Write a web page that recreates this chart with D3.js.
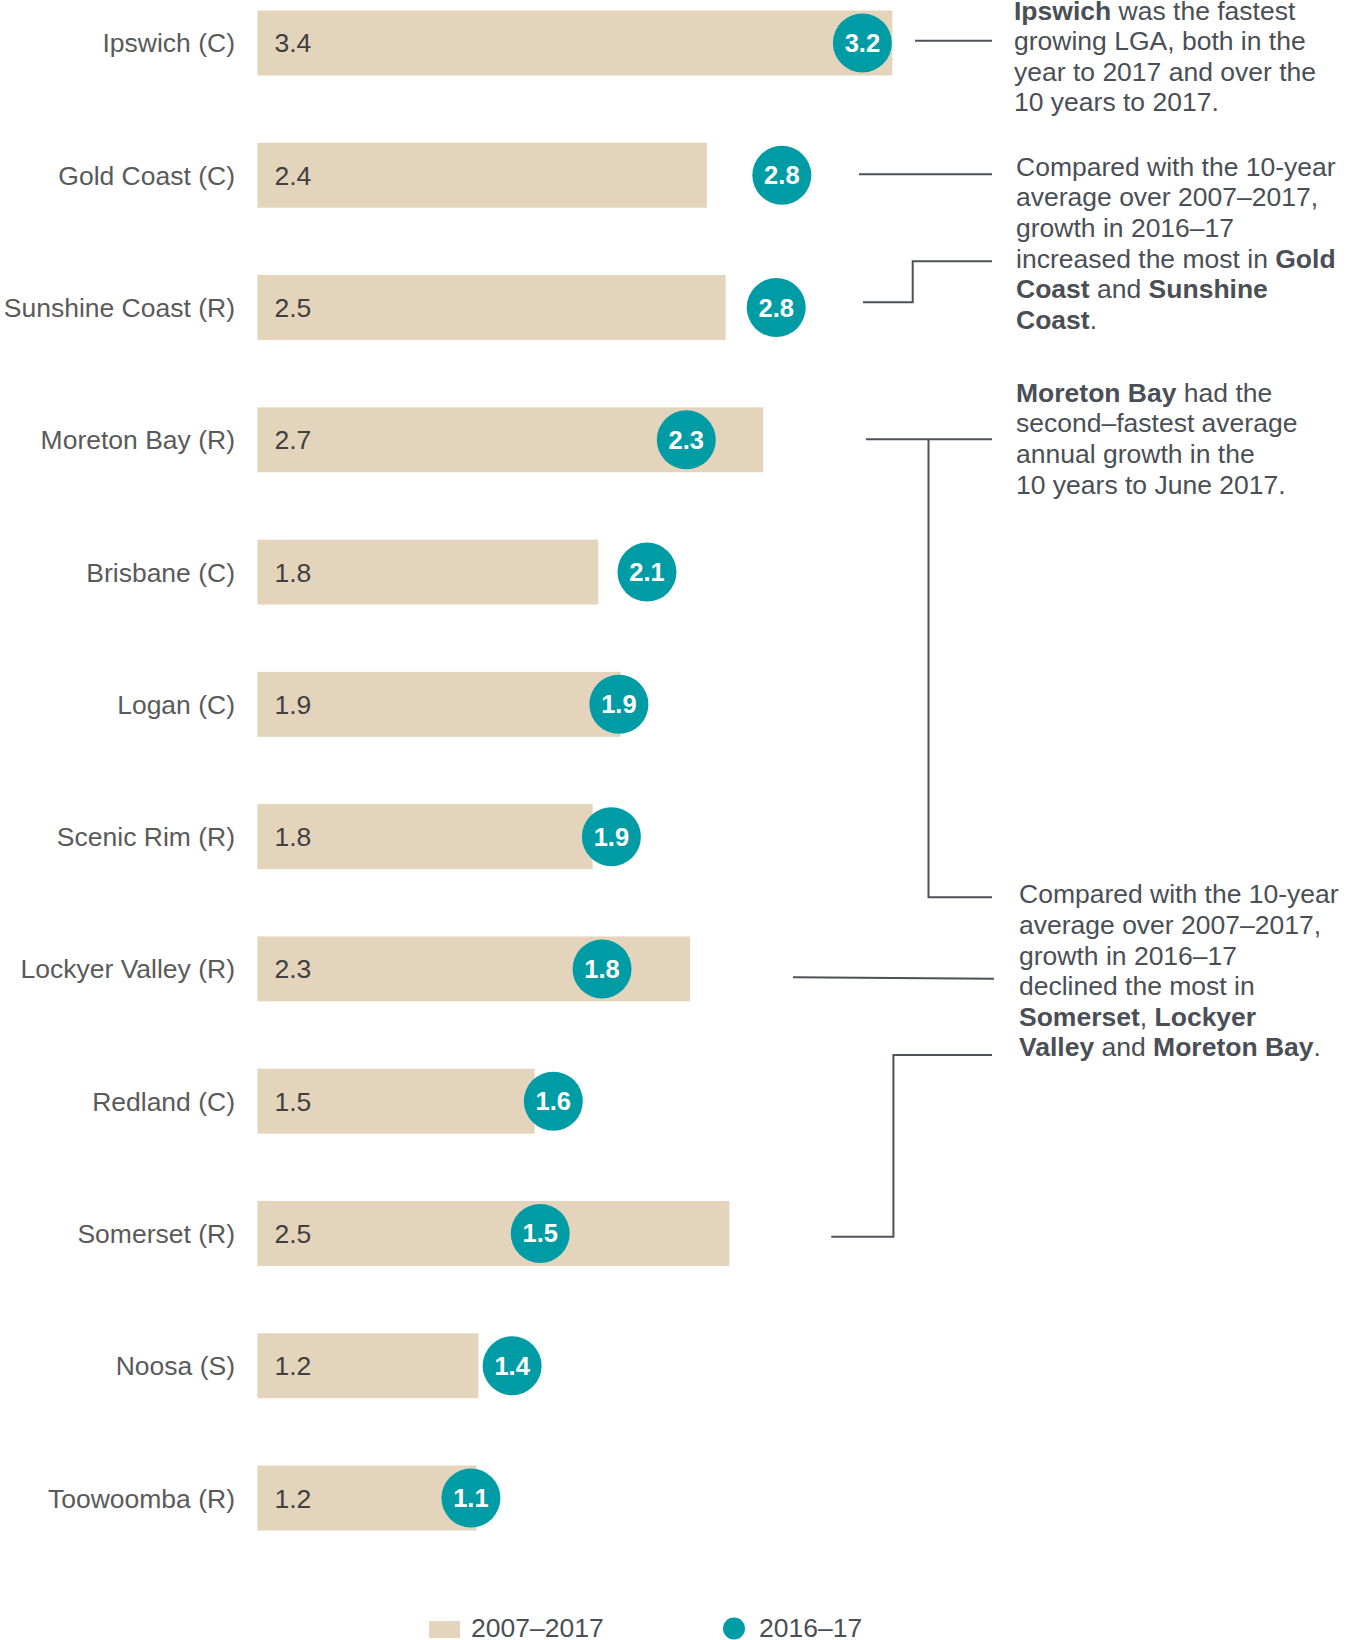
<!DOCTYPE html>
<html>
<head>
<meta charset="utf-8">
<script src="https://cdn.jsdelivr.net/npm/d3@7"></script>
<style>
  body { margin: 0; background: #fff; }
  text { font-family: "Liberation Sans", Arial, sans-serif; }
</style>
</head>
<body>
<div id="chart"></div>
<script>
var width = 1359,
    height = 1640;

// LGAs, top to bottom
var categories = ['Ipswich (C)', 'Gold Coast (C)', 'Sunshine Coast (R)', 'Moreton Bay (R)',
  'Brisbane (C)', 'Logan (C)', 'Scenic Rim (R)', 'Lockyer Valley (R)', 'Redland (C)',
  'Somerset (R)', 'Noosa (S)', 'Toowoomba (R)'];
// average annual growth 2007-2017 (%)
var avg10yr = [3.39, 2.40, 2.50, 2.70, 1.82, 1.94, 1.79, 2.31, 1.48, 2.52, 1.18, 1.17];
// growth 2016-17 (%)
var growth1617 = [3.23, 2.80, 2.77, 2.29, 2.08, 1.93, 1.89, 1.84, 1.58, 1.51, 1.36, 1.14];
var seriesNames = ['2007\u20132017', '2016\u201317'];

// annotation text, each line is a list of [text, bold]
var notes = [
  {x: 1014, y: 19.5, lines: [
    [['Ipswich', true], [' was the fastest', false]],
    [['growing LGA, both in the', false]],
    [['year to 2017 and over the', false]],
    [['10 years to 2017.', false]]]},
  {x: 1016, y: 175.7, lines: [
    [['Compared with the 10-year', false]],
    [['average over 2007\u20132017,', false]],
    [['growth in 2016\u201317', false]],
    [['increased the most in ', false], ['Gold', true]],
    [['Coast', true], [' and ', false], ['Sunshine', true]],
    [['Coast', true], ['.', false]]]},
  {x: 1016, y: 401.7, lines: [
    [['Moreton Bay', true], [' had the', false]],
    [['second\u2013fastest average', false]],
    [['annual growth in the', false]],
    [['10 years to June 2017.', false]]]},
  {x: 1019, y: 903.3, lines: [
    [['Compared with the 10-year', false]],
    [['average over 2007\u20132017,', false]],
    [['growth in 2016\u201317', false]],
    [['declined the most in', false]],
    [['Somerset', true], [', ', false], ['Lockyer', true]],
    [['Valley', true], [' and ', false], ['Moreton Bay', true], ['.', false]]]}
];

var barColor = '#e4d4bb',
    dotColor = '#009ca6',
    lineColor = '#4d5258',
    noteColor = '#4a4f55';

var x = d3.scaleLinear().domain([0, 3.5]).range([257.4, 257.4 + 3.5 * 187.3]);
var y = d3.scaleBand().domain(categories).range([10.5, 1530.5]).paddingInner(0.509).paddingOuter(0);
var r = 29.5;

var svg = d3.select('#chart').append('svg')
    .attr('width', width)
    .attr('height', height);

var rows = svg.selectAll('g.row').data(categories)
  .enter().append('g')
    .attr('class', 'row');

// bars
rows.append('rect')
    .attr('x', x(0))
    .attr('y', function (d) { return y(d); })
    .attr('width', function (d, i) { return x(avg10yr[i]) - x(0); })
    .attr('height', y.bandwidth())
    .style('fill', barColor);

// category labels
rows.append('text')
    .attr('x', 235)
    .attr('y', function (d) { return y(d) + y.bandwidth() / 2 + 9.5; })
    .attr('text-anchor', 'end')
    .style('font-size', '26.5px')
    .style('fill', '#5a5a5a')
    .text(function (d) { return d; });

// bar value labels
rows.append('text')
    .attr('x', x(0) + 17)
    .attr('y', function (d) { return y(d) + y.bandwidth() / 2 + 9.5; })
    .style('font-size', '26.5px')
    .style('fill', '#404040')
    .text(function (d, i) { return avg10yr[i].toFixed(1); });

// dots
rows.append('circle')
    .attr('cx', function (d, i) { return x(growth1617[i]); })
    .attr('cy', function (d) { return y(d) + y.bandwidth() / 2; })
    .attr('r', r)
    .style('fill', dotColor);

rows.append('text')
    .attr('x', function (d, i) { return x(growth1617[i]); })
    .attr('y', function (d) { return y(d) + y.bandwidth() / 2 + 9; })
    .attr('text-anchor', 'middle')
    .style('font-size', '25.5px')
    .style('font-weight', 'bold')
    .style('fill', '#fff')
    .text(function (d, i) { return growth1617[i].toFixed(1); });

// connector lines for the notes
var connectors = [
  [[915, 40.7], [992, 40.7]],
  [[859, 174.3], [992, 174.3]],
  [[863, 302.3], [912.7, 302.3], [912.7, 261.3], [992, 261.3]],
  [[866, 439.3], [992, 439.3]],
  [[928.5, 439.3], [928.5, 897.3], [992, 897.3]],
  [[793, 977.3], [994, 978.7]],
  [[831.3, 1236.7], [893.4, 1236.7], [893.4, 1055], [992, 1055]]
];
svg.selectAll('path.conn').data(connectors)
  .enter().append('path')
    .attr('class', 'conn')
    .attr('d', d3.line())
    .style('fill', 'none')
    .style('stroke', lineColor)
    .style('stroke-width', 2);

// note text
var noteText = svg.selectAll('text.note').data(notes)
  .enter().append('text')
    .attr('class', 'note')
    .style('font-size', '26.5px')
    .style('fill', noteColor);

noteText.each(function (n) {
  var t = d3.select(this);
  n.lines.forEach(function (line, li) {
    line.forEach(function (seg, si) {
      var ts = t.append('tspan')
        .style('font-weight', seg[1] ? 'bold' : 'normal')
        .text(seg[0]);
      if (si == 0) ts.attr('x', n.x).attr('y', n.y + li * 30.6);
    });
  });
});

// legend
var legend = svg.append('g');
legend.append('rect')
    .attr('x', 429).attr('y', 1621)
    .attr('width', 31).attr('height', 17)
    .style('fill', barColor);
legend.append('text')
    .attr('x', 471).attr('y', 1637)
    .style('font-size', '26.5px')
    .style('fill', noteColor)
    .text(seriesNames[0]);
legend.append('circle')
    .attr('cx', 734).attr('cy', 1628.5)
    .attr('r', 11)
    .style('fill', dotColor);
legend.append('text')
    .attr('x', 759).attr('y', 1637)
    .style('font-size', '26.5px')
    .style('fill', noteColor)
    .text(seriesNames[1]);
</script>
</body>
</html>
